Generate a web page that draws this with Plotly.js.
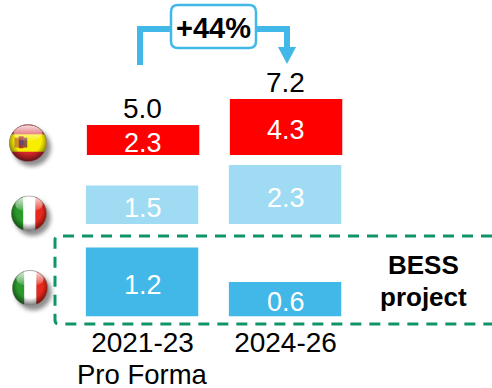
<!DOCTYPE html>
<html>
<head>
<meta charset="utf-8">
<script src="https://cdn.plot.ly/plotly-3.0.1.min.js"></script>
<style>html,body{margin:0;padding:0;background:#fff}#c{width:492px;height:388px}</style>
</head>
<body>
<div id="c"></div>
<script>
const W = 492, H = 388;
const periods = ['2021-23', '2024-26'];
const periodNote = 'Pro Forma';
const spain = [2.3, 4.3];
const italy = [1.5, 2.3];
const bess = [1.2, 0.6];
const totals = [5.0, 7.2];
const growth = '+44%';
const projectLines = ['BESS', 'project'];

const RED = '#ff0000', LIGHT = '#9fdcf3', BLUE = '#41b8e8', GREEN = '#0f9568', FONT = 'Liberation Sans, Arial, sans-serif';
const px = x => x / W, py = y => 1 - y / H;

function flag(kind) {
  const stripes = kind === 'es'
    ? '<rect x="0" y="0" width="100" height="100" fill="#d4262c"/><rect x="0" y="27" width="100" height="46" fill="#f8ee00"/>' +
      '<rect x="14" y="36" width="11" height="26" fill="#c9922e"/><rect x="25" y="32" width="14" height="32" rx="3" fill="#a8392c"/><rect x="39" y="36" width="9" height="26" fill="#8a5a3a"/><rect x="30" y="42" width="9" height="14" fill="#5a4a8a"/>'
    : '<rect x="0" y="0" width="34" height="100" fill="#2b9a2b"/><rect x="34" y="0" width="34" height="100" fill="#ffffff"/><rect x="68" y="0" width="32" height="100" fill="#e8281c"/>';
  const svg = '<svg xmlns="http://www.w3.org/2000/svg" width="360" height="360" viewBox="0 0 130 130">' +
    '<defs><clipPath id="k"><circle cx="50" cy="50" r="49"/></clipPath>' +
    '<filter id="b" x="-30%" y="-30%" width="160%" height="160%"><feGaussianBlur stdDeviation="6"/></filter>' +
    '<radialGradient id="v" cx="0.5" cy="0.42" r="0.6"><stop offset="0.6" stop-color="#000" stop-opacity="0"/><stop offset="1" stop-color="#000" stop-opacity="0.6"/></radialGradient>' +
    '<linearGradient id="g" x1="0" y1="0" x2="0" y2="1"><stop offset="0" stop-color="#fff" stop-opacity="0.85"/><stop offset="1" stop-color="#fff" stop-opacity="0.1"/></linearGradient></defs>' +
    '<circle cx="60" cy="62" r="50" fill="#444" opacity="0.6" filter="url(#b)"/>' +
    '<g clip-path="url(#k)">' + stripes + '<circle cx="50" cy="50" r="49" fill="url(#v)"/>' +
    '<ellipse cx="50" cy="24" rx="38" ry="21" fill="url(#g)"/></g>' +
    '<circle cx="50" cy="50" r="49" fill="none" stroke="#777" stroke-width="1.5"/></svg>';
  return 'data:image/svg+xml;charset=utf-8,' + encodeURIComponent(svg);
}
function flagImage(kind, cx, cy, r) {
  const size = r * 2 * 1.3;
  return {source: flag(kind), xref: 'paper', yref: 'paper', x: px(cx - r), y: py(cy - r),
          sizex: size / W, sizey: size / H, xanchor: 'left', yanchor: 'top', sizing: 'stretch', layer: 'above'};
}

function barTrace(values, color, yaxis, offset) {
  return {type: 'bar', x: periods, y: values, yaxis: yaxis, marker: {color: color, line: {width: 0}},
          width: 0.786, offset: offset, hoverinfo: 'skip'};
}
function barLabels(values, yref) {
  return values.map((v, i) => ({xref: 'x', yref: yref, x: periods[i], y: v / 2, text: v.toFixed(1), showarrow: false,
    yanchor: 'middle', yshift: -3, font: {size: 27, color: '#fff'}}));
}
function totalLabels() {
  return totals.map((v, i) => ({xref: 'x', yref: 'y3', x: periods[i], y: spain[i], text: v.toFixed(1), showarrow: false,
    yanchor: 'bottom', yshift: -1, font: {size: 28, color: '#000'}}));
}

const data = [
  barTrace(bess, BLUE, 'y', -0.396),
  barTrace(italy, LIGHT, 'y2', -0.396),
  barTrace(spain, RED, 'y3', -0.389)
];

const layout = {
  width: W, height: H, margin: {l: 0, r: 0, t: 0, b: 0, pad: 0},
  paper_bgcolor: '#fff', plot_bgcolor: 'rgba(0,0,0,0)', showlegend: false, barmode: 'overlay',
  font: {family: FONT, color: '#000', size: 27},
  xaxis: {type: 'category', categoryorder: 'array', categoryarray: periods, range: [-0.9965, 2.4441],
          domain: [0, 1], anchor: 'y', showgrid: false, zeroline: false, showline: false, ticks: '',
          tickfont: {family: FONT, size: 28, color: '#000'}, ticklabelstandoff: 6, automargin: false},
  yaxis: {domain: [py(316.5), py(236)], range: [0, 80.5 / 57.5], visible: false, fixedrange: true},
  yaxis2: {domain: [py(224), py(160)], range: [0, 64 / 25.6], visible: false, fixedrange: true, anchor: 'x'},
  yaxis3: {domain: [py(155), py(90)], range: [0, 5], visible: false, fixedrange: true, anchor: 'x'},
  shapes: [
    {type: 'path', xref: 'paper', yref: 'paper', layer: 'below', line: {color: GREEN, width: 3, dash: '11px,8px'},
     path: `M ${px(492)} ${py(236)} L ${px(59)} ${py(236)} Q ${px(55)} ${py(236)} ${px(55)} ${py(240)} L ${px(55)} ${py(320)} Q ${px(55)} ${py(324)} ${px(59)} ${py(324)} L ${px(492)} ${py(324)}`},
    {type: 'path', xref: 'paper', yref: 'paper', line: {color: BLUE, width: 6, dash: 'solid'},
     path: `M ${px(140)} ${py(65)} L ${px(140)} ${py(29)} L ${px(287)} ${py(29)} L ${px(287)} ${py(50)}`},
    {type: 'path', xref: 'paper', yref: 'paper', line: {width: 0}, fillcolor: BLUE,
     path: `M ${px(278)} ${py(47)} L ${px(296)} ${py(47)} L ${px(287)} ${py(64)} Z`},
    {type: 'path', xref: 'paper', yref: 'paper', fillcolor: '#fff', line: {color: BLUE, width: 2.5},
     path: `M ${px(178)} ${py(5)} L ${px(249)} ${py(5)} Q ${px(256)} ${py(5)} ${px(256)} ${py(12)} L ${px(256)} ${py(41)} Q ${px(256)} ${py(48)} ${px(249)} ${py(48)} L ${px(178)} ${py(48)} Q ${px(171)} ${py(48)} ${px(171)} ${py(41)} L ${px(171)} ${py(12)} Q ${px(171)} ${py(5)} ${px(178)} ${py(5)} Z`}
  ],
  annotations: [
    ...barLabels(bess, 'y'), ...barLabels(italy, 'y2'), ...barLabels(spain, 'y3'), ...totalLabels(),
    {xref: 'paper', yref: 'paper', x: px(213.5), y: py(28), text: '<b>' + growth + '</b>', showarrow: false, xanchor: 'center', yanchor: 'middle', font: {size: 29, color: '#000'}},
    {xref: 'paper', yref: 'paper', x: px(423), y: py(265), text: '<b>' + projectLines[0] + '</b>', showarrow: false, xanchor: 'center', yanchor: 'middle', font: {size: 26, color: '#000'}},
    {xref: 'paper', yref: 'paper', x: px(423), y: py(297), text: '<b>' + projectLines[1] + '</b>', showarrow: false, xanchor: 'center', yanchor: 'middle', font: {size: 26, color: '#000'}},
    {xref: 'x', yref: 'paper', x: periods[0], y: py(374), text: periodNote, height: 28, showarrow: false, yanchor: 'middle', font: {size: 27.5, color: '#000'}}
  ],
  images: [flagImage('es', 28, 143, 19), flagImage('it', 29, 213.5, 18), flagImage('it', 30, 288, 18)]
};

Plotly.newPlot('c', data, layout, {displayModeBar: false, staticPlot: true});
</script>
</body>
</html>
